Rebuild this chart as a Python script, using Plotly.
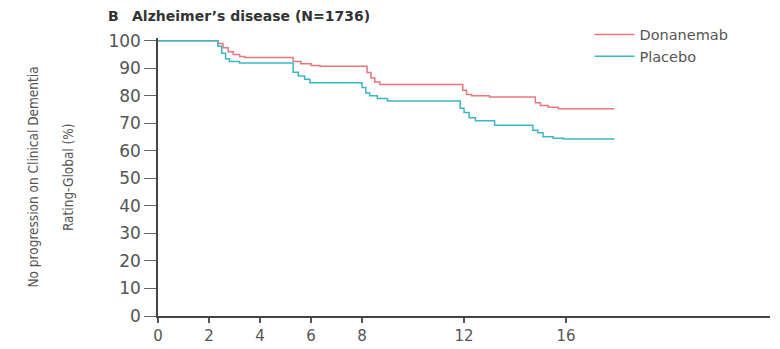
import plotly.graph_objects as go

months_don = [0, 2.35, 2.55, 2.75, 2.95, 3.2, 3.4, 5.3, 5.6, 6.0, 6.35, 8.2, 8.35, 8.5, 8.7,
              11.95, 12.1, 12.3, 13.0, 14.8, 15.0, 15.3, 15.7, 17.9]
surv_don = [100, 99, 97.5, 96, 95, 94.3, 93.9, 92.5, 91.6, 91.0, 90.7, 88.5, 86.5, 85, 84.1,
            82, 80.5, 80.0, 79.6, 77.5, 76.5, 75.8, 75.3, 75.3]

months_pla = [0, 2.35, 2.5, 2.65, 2.8, 3.2, 5.3, 5.5, 5.75, 5.96, 8.0, 8.15, 8.3, 8.6, 9.0,
              11.85, 12.0, 12.2, 12.45, 13.2, 14.7, 14.9, 15.1, 15.5, 15.9, 17.9]
surv_pla = [100, 98, 95.5, 93.5, 92.5, 91.9, 88.6, 87.2, 86, 84.7, 83, 81, 80, 79, 78.1,
            75.5, 73.9, 72.0, 70.9, 69.3, 67.5, 66.6, 65.1, 64.6, 64.3, 64.3]

x_ticks = [0, 2, 4, 6, 8, 12, 16]
y_ticks = list(range(0, 101, 10))

title_text = "<b>B</b>   <b>Alzheimer’s disease (N=1736)</b>"
ytitle_1 = "No progression on Clinical Dementia"
ytitle_2 = "Rating-Global (%)"

fig = go.Figure()
fig.add_trace(go.Scatter(x=months_don, y=surv_don, mode="lines", name="Donanemab",
                         line=dict(color="#e8787c", width=1.5, shape="hv")))
fig.add_trace(go.Scatter(x=months_pla, y=surv_pla, mode="lines", name="Placebo",
                         line=dict(color="#3cb6c6", width=1.5, shape="hv")))

ytickfont = dict(family="DejaVu Sans", size=17, color="#555555")
xtickfont = dict(family="DejaVu Sans", size=15, color="#555555")

fig.update_layout(
    width=780, height=349,
    margin=dict(l=158, r=10, t=38, b=33),
    paper_bgcolor="white", plot_bgcolor="white",
    showlegend=True,
    legend=dict(x=0.705, y=1.07, xanchor="left", yanchor="top",
                font=dict(family="DejaVu Sans", size=14.5, color="#555555"),
                bgcolor="rgba(0,0,0,0)", tracegroupgap=0, itemwidth=40),
    xaxis=dict(range=[0, 24], tickvals=x_ticks, ticktext=[str(v) for v in x_ticks],
               showline=True, linecolor="#444444", linewidth=1.5,
               ticks="outside", ticklen=5, tickcolor="#555555", tickwidth=1.5,
               automargin=False,
               showgrid=False, zeroline=False, tickfont=xtickfont),
    yaxis=dict(range=[0, 101], tickvals=y_ticks, ticktext=[str(v) for v in y_ticks],
               showline=True, linecolor="#444444", linewidth=1.5,
               ticks="outside", ticklen=12, tickcolor="#666666", tickwidth=1.2,
               automargin=False,
               showgrid=False, zeroline=False, tickfont=ytickfont),
    annotations=[
        dict(text=title_text, xref="paper", yref="paper", x=-0.085, y=1.08,
             xanchor="left", yanchor="middle", showarrow=False,
             font=dict(family="DejaVu Sans", size=14, color="#333333")),
        dict(text=ytitle_1, xref="paper", yref="paper", x=-0.205, y=0.5,
             xanchor="center", yanchor="middle", showarrow=False, textangle=-90,
             font=dict(family="Liberation Sans Narrow, DejaVu Sans Condensed", size=13.5, color="#555555")),
        dict(text=ytitle_2, xref="paper", yref="paper", x=-0.147, y=0.5,
             xanchor="center", yanchor="middle", showarrow=False, textangle=-90,
             font=dict(family="Liberation Sans Narrow, DejaVu Sans Condensed", size=13.5, color="#555555")),
    ],
)

fig.write_html("out.html")
